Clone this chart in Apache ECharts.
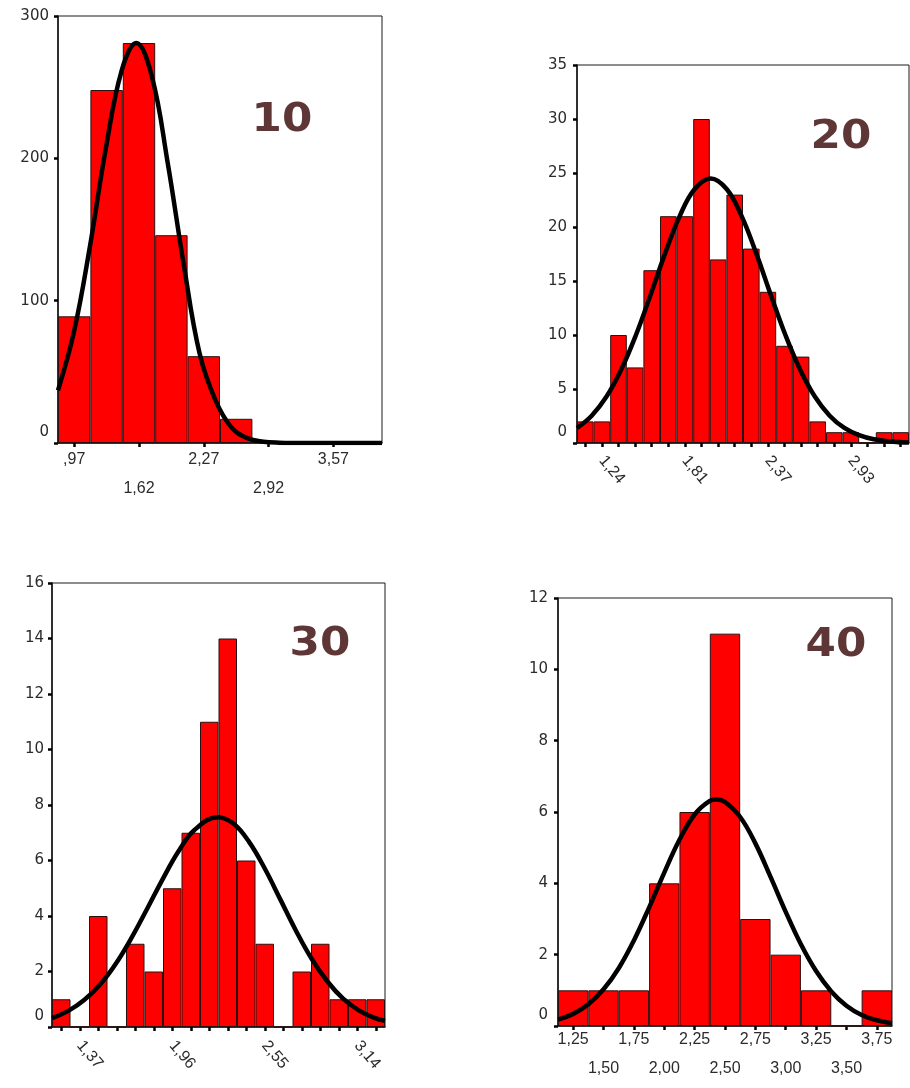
<!DOCTYPE html>
<html>
<head>
<meta charset="utf-8">
<script src="https://cdn.jsdelivr.net/npm/echarts@6/dist/echarts.min.js"></script>
<style>
html,body{margin:0;padding:0;background:#fff;}
#chart{width:910px;height:1088px;}
</style>
</head>
<body>
<div id="chart"></div>
<script>
// ---------- Panel "10" ----------
const bins1 = [0.97, 1.30, 1.62, 1.95, 2.27, 2.60, 2.92, 3.25, 3.57, 3.90];
const counts1 = [89, 248, 281, 146, 61, 17, 1, 1, 0, 1];
const ticks1 = [',97', '', '1,62', '', '2,27', '', '2,92', '', '3,57', ''];
const curveX1 = [0.81, 0.97, 1.13, 1.29, 1.45, 1.595, 1.75, 1.91, 2.07, 2.23, 2.39, 2.55, 2.71, 2.87, 3.03, 3.2, 3.5, 4.06];
const curveY1 = [37, 78, 138, 207, 262, 281, 258, 197, 126, 63, 30, 11, 3.4, 0.9, 0.2, 0.05, 0, 0];
const yTicks1 = [0, 100, 200, 300];

// ---------- Panel "20" ----------
const bins2 = [1.13, 1.24, 1.35, 1.47, 1.58, 1.69, 1.81, 1.92, 2.03, 2.14, 2.26, 2.37, 2.48, 2.59, 2.71, 2.82, 2.93, 3.04, 3.16, 3.27];
const counts2 = [2, 2, 10, 7, 16, 21, 21, 30, 17, 23, 18, 14, 9, 8, 2, 1, 1, 0, 1, 1];
const ticks2 = ['', '1,24', '', '', '', '', '1,81', '', '', '', '', '2,37', '', '', '', '', '2,93', '', '', ''];
const curveX2 = [1.07, 1.17, 1.27, 1.37, 1.47, 1.57, 1.67, 1.77, 1.87, 1.98, 2.09, 2.19, 2.29, 2.39, 2.49, 2.59, 2.69, 2.79, 2.89, 2.99, 3.09, 3.2, 3.33];
const curveY2 = [1.39, 2.53, 4.28, 6.76, 9.95, 13.69, 17.56, 21.03, 23.5, 24.5, 23.5, 21.03, 17.56, 13.69, 9.95, 6.76, 4.28, 2.53, 1.39, 0.72, 0.34, 0.14, 0.04];
const yTicks2 = [0, 5, 10, 15, 20, 25, 30, 35];

// ---------- Panel "30" ----------
const bins3 = [1.25, 1.37, 1.49, 1.61, 1.73, 1.84, 1.96, 2.08, 2.20, 2.32, 2.43, 2.55, 2.67, 2.79, 2.91, 3.02, 3.14, 3.26];
const counts3 = [1, 0, 4, 0, 3, 2, 5, 7, 11, 14, 6, 3, 0, 2, 3, 1, 1, 1];
const ticks3 = ['', '1,37', '', '', '', '', '1,96', '', '', '', '', '2,55', '', '', '', '', '3,14', ''];
const curveX3 = [1.193, 1.30, 1.40, 1.50, 1.60, 1.70, 1.80, 1.90, 2.00, 2.10, 2.25, 2.35, 2.45, 2.55, 2.65, 2.75, 2.85, 2.95, 3.05, 3.15, 3.25, 3.317];
const curveY3 = [0.32, 0.59, 0.98, 1.53, 2.28, 3.21, 4.26, 5.34, 6.33, 7.09, 7.56, 7.33, 6.67, 5.71, 4.59, 3.46, 2.45, 1.64, 1.02, 0.60, 0.33, 0.22];
const yTicks3 = [0, 2, 4, 6, 8, 10, 12, 14, 16];

// ---------- Panel "40" ----------
const bins4 = [1.25, 1.50, 1.75, 2.00, 2.25, 2.50, 2.75, 3.00, 3.25, 3.50, 3.75];
const counts4 = [1, 1, 1, 4, 6, 11, 3, 2, 1, 0, 1];
const ticks4 = ['1,25', '1,50', '1,75', '2,00', '2,25', '2,50', '2,75', '3,00', '3,25', '3,50', '3,75'];
const curveX4 = [1.125, 1.25, 1.375, 1.5, 1.625, 1.75, 1.875, 2.0, 2.125, 2.25, 2.375, 2.43, 2.5, 2.625, 2.75, 2.875, 3.0, 3.125, 3.25, 3.375, 3.5, 3.625, 3.75, 3.875];
const curveY4 = [0.18, 0.34, 0.61, 1.03, 1.62, 2.40, 3.32, 4.30, 5.22, 5.93, 6.31, 6.35, 6.28, 5.86, 5.12, 4.18, 3.20, 2.29, 1.54, 0.97, 0.57, 0.31, 0.16, 0.08];
const yTicks4 = [0, 2, 4, 6, 8, 10, 12];

const panelTitles = ['10', '20', '30', '40'];

const panels = [
  {bins: bins1, counts: counts1, ticks: ticks1, cx: curveX1, cy: curveY1, yt: yTicks1,
   grid: {left: 58, top: 16, width: 324, height: 427}, stagger: true, lh: 29, xm: 2, rot: 0, fs: 16, allTicks: false, ym: 9,
   title: {x: 282, y: 121}},
  {bins: bins2, counts: counts2, ticks: ticks2, cx: curveX2, cy: curveY2, yt: yTicks2,
   grid: {left: 577, top: 65, width: 332, height: 378}, stagger: false, lh: 16, xm: 15, rot: -50, fs: 16, allTicks: true, ym: 10,
   title: {x: 841, y: 138}},
  {bins: bins3, counts: counts3, ticks: ticks3, cx: curveX3, cy: curveY3, yt: yTicks3,
   grid: {left: 52, top: 583, width: 333, height: 444}, stagger: false, lh: 16, xm: 16, rot: -50, fs: 16, allTicks: true, ym: 8,
   title: {x: 320, y: 645}},
  {bins: bins4, counts: counts4, ticks: ticks4, cx: curveX4, cy: curveY4, yt: yTicks4,
   grid: {left: 558, top: 598, width: 334, height: 428}, stagger: true, lh: 29, xm: -1, rot: 0, fs: 16, allTicks: true, ym: 10,
   title: {x: 836, y: 646}}
];

const grids = [], xAxes = [], yAxes = [], series = [], graphics = [];
const xFont = 'Liberation Sans, Arial, sans-serif';
const yFont = 'DejaVu Sans, Verdana, sans-serif';
const labelColor = '#2b2b2b';

panels.forEach((p, g) => {
  grids.push(Object.assign({show: true, borderColor: '#1a1a1a', borderWidth: 1, backgroundColor: 'transparent'}, p.grid));
  const visIdx = [];
  p.ticks.forEach((t, i) => { if (t !== '') visIdx.push(i); });
  xAxes.push({
    gridIndex: g, type: 'category', data: p.bins, boundaryGap: true,
    axisLine: {show: true, onZero: false, lineStyle: {color: '#111', width: 1.5}},
    axisTick: {show: true, alignWithLabel: true, length: 4,
      interval: p.allTicks ? 0 : function (i) { return p.ticks[i] !== ''; },
      lineStyle: {color: '#000', width: 2.5}},
    axisLabel: {
      interval: 0, margin: p.xm, rotate: p.rot, lineHeight: p.lh,
      fontFamily: xFont, fontSize: p.fs, color: labelColor,
      formatter: function (v, i) {
        const t = p.ticks[i];
        if (!t) return '';
        if (p.stagger && visIdx.indexOf(i) % 2 === 1) return '\n' + t;
        return t;
      }
    },
    splitLine: {show: false}
  });
  xAxes.push({
    gridIndex: g, type: 'value', show: false,
    min: p.cx[0], max: p.cx[p.cx.length - 1]
  });
  const ymax = p.yt[p.yt.length - 1];
  yAxes.push({
    gridIndex: g, type: 'value', min: 0, max: ymax, interval: p.yt[1] - p.yt[0],
    axisLine: {show: true, lineStyle: {color: '#111', width: 1.5}},
    axisTick: {show: true, length: 4, lineStyle: {color: '#000', width: 2.5}},
    splitLine: {show: false},
    axisLabel: {
      margin: p.ym, fontFamily: yFont, fontSize: 15, color: labelColor,
      formatter: function (v) { return v === 0 ? '{z|0}' : String(v); },
      rich: {z: {padding: [0, 0, 22, 0], fontSize: 15, fontFamily: yFont, color: labelColor}}
    }
  });
  series.push({
    type: 'bar', xAxisIndex: 2 * g, yAxisIndex: g, data: p.counts,
    barCategoryGap: '0%',
    itemStyle: {color: '#ff0000', borderColor: '#2a1010', borderWidth: 1},
    emphasis: {disabled: true},
    silent: true
  });
  series.push({
    type: 'line', xAxisIndex: 2 * g + 1, yAxisIndex: g,
    data: p.cx.map((x, i) => [x, p.cy[i]]),
    smooth: 0.4, showSymbol: false, symbol: 'none',
    lineStyle: {color: '#000', width: 4.5},
    clip: true, silent: true, z: 5
  });
  graphics.push({
    type: 'text', x: p.title.x, y: p.title.y, scaleX: 1.12, z: 10,
    style: {text: panelTitles[g], x: 0, y: 0, textAlign: 'center', textVerticalAlign: 'middle',
      font: 'bold 39px "DejaVu Sans", sans-serif', fill: '#5e3636'}
  });
});

const chart = echarts.init(document.getElementById('chart'), null, {renderer: 'canvas'});
chart.setOption({
  backgroundColor: '#ffffff',
  animation: false,
  grid: grids,
  xAxis: xAxes,
  yAxis: yAxes,
  series: series,
  graphic: graphics
});
</script>
</body>
</html>
